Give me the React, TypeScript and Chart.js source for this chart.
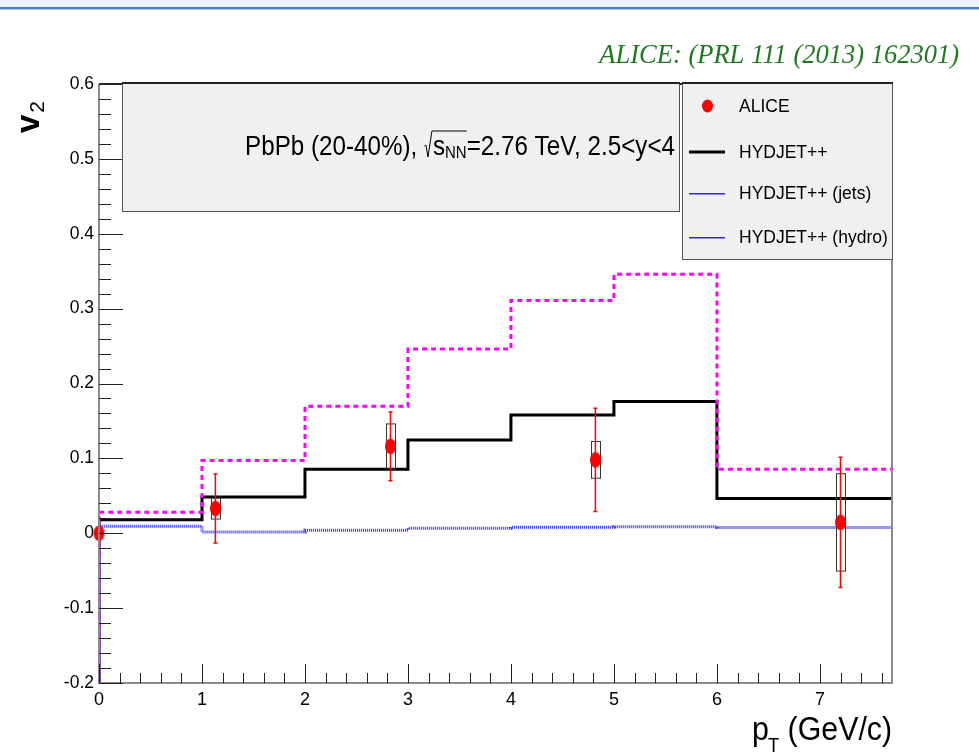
import React, { useEffect, useRef } from 'react';
import { Chart, registerables } from 'chart.js';

Chart.register(...registerables);

// ---------------- data ----------------
const binEdges = [0, 1, 2, 3, 4, 5, 6, 8];
const hydjetTotal = [0.018, 0.0485, 0.0855, 0.1245, 0.158, 0.176, 0.0465];
const hydjetMagenta = [0.028, 0.097, 0.1695, 0.246, 0.311, 0.346, 0.0855];
const hydjetBlue = [0.0093, 0.0017, 0.004, 0.0068, 0.008, 0.0088, 0.0078];

const aliceX = [0, 1.13, 2.83, 4.82, 7.2];
const aliceY = [0, 0.033, 0.116, 0.098, 0.0145];
const aliceStat = [0, 0.046, 0.046, 0.069, 0.087];
const aliceSys = [0, 0.014, 0.03, 0.0245, 0.065];

const xTicks = [0, 1, 2, 3, 4, 5, 6, 7];
const xTickLabels = ['0', '1', '2', '3', '4', '5', '6', '7'];
const yTicks = [-0.2, -0.1, 0, 0.1, 0.2, 0.3, 0.4, 0.5, 0.6];
const yTickLabels = ['-0.2', '-0.1', '0', '0.1', '0.2', '0.3', '0.4', '0.5', '0.6'];
const xMin = 0;
const xMax = 7.7;
const yMin = -0.2;
const yMax = 0.6;

const legendLabels = ['ALICE', 'HYDJET++', 'HYDJET++ (jets)', 'HYDJET++ (hydro)'];
const titleText = 'ALICE: (PRL 111 (2013) 162301)';
const infoLeft = 'PbPb (20-40%), ';
const infoS = 's';
const infoSub = 'NN';
const infoRight = '=2.76 TeV, 2.5<y<4';

const SANS = '"Liberation Sans", Arial, Helvetica, sans-serif';
const SERIF = '"Liberation Serif", "Times New Roman", serif';

function histPoints(values: number[]) {
  const pts: { x: number; y: number }[] = [{ x: binEdges[0], y: yMin }];
  values.forEach((v, i) => pts.push({ x: binEdges[i], y: v }));
  pts.push({ x: binEdges[binEdges.length - 1], y: values[values.length - 1] });
  return pts;
}

function ellipseMarker(rx: number, ry: number) {
  const c = document.createElement('canvas');
  c.width = Math.ceil(rx * 2) + 2;
  c.height = Math.ceil(ry * 2) + 2;
  const g = c.getContext('2d')!;
  g.fillStyle = '#ff0000';
  g.beginPath();
  g.ellipse(c.width / 2, c.height / 2, rx, ry, 0, 0, Math.PI * 2);
  g.fill();
  return c;
}

const rootPlugin = {
  id: 'rootDecor',
  beforeDraw(chart: any) {
    const ctx = chart.ctx as CanvasRenderingContext2D;
    ctx.save();
    ctx.fillStyle = '#ffffff';
    ctx.fillRect(0, 0, chart.width, chart.height);
    ctx.fillStyle = '#eaf2fb';
    ctx.fillRect(0, 0, chart.width, 7);
    ctx.fillStyle = '#4f7fbe';
    ctx.fillRect(0, 7, chart.width, 2);
    ctx.fillStyle = '#a9c3e3';
    ctx.fillRect(0, 9, chart.width, 1);
    ctx.restore();
  },
  beforeDatasetDraw(chart: any, args: any) {
    if (args.index !== 0) return;
    const ctx = chart.ctx as CanvasRenderingContext2D;
    const xs = chart.scales.x;
    const ys = chart.scales.y;
    ctx.save();
    for (let i = 0; i < aliceX.length; i++) {
      if (aliceStat[i] === 0 && aliceSys[i] === 0) continue;
      const px = xs.getPixelForValue(aliceX[i]);
      const bt = ys.getPixelForValue(aliceY[i] + aliceSys[i]);
      const bb = ys.getPixelForValue(aliceY[i] - aliceSys[i]);
      ctx.strokeStyle = '#333333';
      ctx.lineWidth = 1;
      ctx.strokeRect(Math.round(px - 4.5) + 0.5, bt, 9, bb - bt);
      const et = ys.getPixelForValue(aliceY[i] + aliceStat[i]);
      const eb = ys.getPixelForValue(aliceY[i] - aliceStat[i]);
      ctx.strokeStyle = '#ff0000';
      ctx.lineWidth = 1.5;
      ctx.beginPath();
      ctx.moveTo(px, et);
      ctx.lineTo(px, eb);
      ctx.moveTo(px - 2, et);
      ctx.lineTo(px + 2, et);
      ctx.moveTo(px - 2, eb);
      ctx.lineTo(px + 2, eb);
      ctx.stroke();
    }
    ctx.restore();
  },
  afterDraw(chart: any) {
    const ctx = chart.ctx as CanvasRenderingContext2D;
    const xs = chart.scales.x;
    const ys = chart.scales.y;
    const a = chart.chartArea;
    ctx.save();

    // ----- frame -----
    ctx.strokeStyle = '#8a8a8a';
    ctx.lineWidth = 2;
    ctx.beginPath();
    ctx.moveTo(a.left, a.top);
    ctx.lineTo(a.left, a.bottom);
    ctx.lineTo(a.right, a.bottom);
    ctx.lineTo(a.right, a.top);
    ctx.stroke();
    ctx.strokeStyle = '#222222';
    ctx.beginPath();
    ctx.moveTo(a.left, a.top);
    ctx.lineTo(a.right, a.top);
    ctx.stroke();

    // ----- ticks (inside, ROOT style) -----
    ctx.strokeStyle = '#222222';
    ctx.lineWidth = 1;
    ctx.beginPath();
    const ySub = 0.1 / 5;
    const nY = Math.round((yMax - yMin) / ySub);
    for (let i = 0; i <= nY; i++) {
      const v = yMin + i * ySub;
      const py = Math.round(ys.getPixelForValue(v)) + 0.5;
      const len = i % 5 === 0 ? 24 : 12;
      ctx.moveTo(a.left, py);
      ctx.lineTo(a.left + len, py);
    }
    const xSub = 1 / 5;
    const nX = Math.floor((xMax - xMin) / xSub + 1e-6);
    for (let i = 0; i <= nX; i++) {
      const v = xMin + i * xSub;
      const px = Math.round(xs.getPixelForValue(v)) + 0.5;
      const len = i % 5 === 0 ? 19 : 10;
      ctx.moveTo(px, a.bottom);
      ctx.lineTo(px, a.bottom - len);
    }
    ctx.stroke();

    // ----- info box -----
    ctx.fillStyle = '#f0f0f0';
    ctx.fillRect(122, 83, 558, 129);
    ctx.strokeStyle = '#555555';
    ctx.lineWidth = 1;
    ctx.strokeRect(122.5, 83.5, 557, 128);
    ctx.strokeStyle = '#222222';
    ctx.lineWidth = 2;
    ctx.beginPath();
    ctx.moveTo(122, 83);
    ctx.lineTo(680, 83);
    ctx.stroke();

    const F = 27.5;
    const sx = 0.88;
    const big = `${F}px ${SANS}`;
    const small = `17px ${SANS}`;
    ctx.font = big;
    const w1 = ctx.measureText(infoLeft).width;
    const ws = ctx.measureText(infoS).width;
    const w2 = ctx.measureText(infoRight).width;
    ctx.font = small;
    const wSub = ctx.measureText(infoSub).width;
    const radW = 9;
    const baseline = 155;
    const totalFinal = (w1 + ws + wSub + w2) * sx + radW;
    const x0 = 675 - totalFinal;
    ctx.fillStyle = '#000000';
    ctx.textBaseline = 'alphabetic';
    ctx.textAlign = 'left';
    const drawScaled = (txt: string, font: string, x: number, y: number) => {
      ctx.save();
      ctx.translate(x, y);
      ctx.scale(sx, 1);
      ctx.font = font;
      ctx.fillText(txt, 0, 0);
      ctx.restore();
    };
    drawScaled(infoLeft, big, x0, baseline);
    const rx = x0 + w1 * sx;
    const sX = rx + radW;
    drawScaled(infoS, big, sX, baseline);
    const subX = sX + ws * sx;
    drawScaled(infoSub, small, subX, baseline + 3);
    const eqX = subX + wSub * sx;
    drawScaled(infoRight, big, eqX, baseline);
    ctx.strokeStyle = '#000000';
    ctx.lineWidth = 1;
    ctx.beginPath();
    ctx.moveTo(rx + 0.5, baseline - 9);
    ctx.lineTo(rx + 2, baseline - 10);
    ctx.lineTo(rx + 4, baseline + 2);
    ctx.lineTo(rx + 8, baseline - 24);
    ctx.lineTo(eqX, baseline - 24);
    ctx.stroke();

    // ----- legend -----
    const lx = 682, ly = 83, lw = 211, lh = 177;
    ctx.fillStyle = '#f0f0f0';
    ctx.fillRect(lx, ly, lw, lh);
    ctx.strokeStyle = '#555555';
    ctx.lineWidth = 1;
    ctx.strokeRect(lx + 0.5, ly + 0.5, lw - 1, lh - 1);
    ctx.strokeStyle = '#222222';
    ctx.lineWidth = 2;
    ctx.beginPath();
    ctx.moveTo(lx, ly);
    ctx.lineTo(lx + lw, ly);
    ctx.stroke();
    const rowY = [106, 152, 193, 237];
    ctx.font = `17.5px ${SANS}`;
    ctx.textBaseline = 'middle';
    legendLabels.forEach((lab, i) => {
      const y = rowY[i];
      if (i === 0) {
        ctx.fillStyle = '#ff0000';
        ctx.beginPath();
        ctx.ellipse(707.5, y, 5.5, 6.5, 0, 0, Math.PI * 2);
        ctx.fill();
      } else if (i === 1) {
        ctx.fillStyle = '#000000';
        ctx.fillRect(689, y - 1.5, 36, 3);
      } else {
        ctx.fillStyle = '#2a2aee';
        ctx.fillRect(689, y, 36, 1.5);
      }
      ctx.fillStyle = '#000000';
      ctx.fillText(lab, 739, y + 1);
    });

    // ----- title -----
    ctx.font = `italic 26.5px ${SERIF}`;
    ctx.fillStyle = '#1f7a1f';
    ctx.textAlign = 'right';
    ctx.textBaseline = 'alphabetic';
    ctx.fillText(titleText, 959, 63);

    // ----- y title: v_2 -----
    ctx.save();
    ctx.translate(39, 133);
    ctx.rotate(-Math.PI / 2);
    ctx.textAlign = 'left';
    ctx.fillStyle = '#000000';
    ctx.font = `bold 33px ${SANS}`;
    ctx.fillText('v', 0, 0);
    const vW = ctx.measureText('v').width;
    ctx.font = `21px ${SANS}`;
    ctx.fillText('2', vW + 2, 5);
    ctx.restore();

    // ----- x title: p_T (GeV/c) -----
    const xsx = 0.92;
    ctx.textAlign = 'left';
    ctx.fillStyle = '#000000';
    const xt = (txt: string, font: string, x: number, y: number) => {
      ctx.save();
      ctx.translate(x, y);
      ctx.scale(xsx, 1);
      ctx.font = font;
      ctx.fillText(txt, 0, 0);
      const w = ctx.measureText(txt).width * xsx;
      ctx.restore();
      return w;
    };
    const pW = xt('p', `33px ${SANS}`, 752, 740);
    const tW = xt('T', `20px ${SANS}`, 752 + pW - 1, 752);
    xt(' (GeV/c)', `33px ${SANS}`, 752 + pW - 1 + tW, 740);

    ctx.restore();
  },
};

export default function App() {
  const ref = useRef<HTMLCanvasElement | null>(null);

  useEffect(() => {
    const canvas = ref.current;
    if (!canvas) return;
    const marker = ellipseMarker(5.5, 7.7);
    const chart = new Chart(canvas, {
      type: 'scatter',
      data: {
        datasets: [
          {
            label: 'ALICE',
            data: aliceX.map((x, i) => ({ x, y: aliceY[i] })),
            pointStyle: marker as any,
            pointRadius: 7,
            backgroundColor: '#ff0000',
            borderWidth: 0,
            clip: false as any,
          },
          {
            label: 'HYDJET++ (jets)',
            data: histPoints(hydjetBlue),
            showLine: true,
            stepped: 'before',
            pointRadius: 0,
            borderColor: 'rgba(20,20,255,0.9)',
            borderWidth: 3,
            borderDash: [1, 1],
          } as any,
          {
            label: 'HYDJET++ (hydro)',
            data: histPoints(hydjetMagenta),
            showLine: true,
            stepped: 'before',
            pointRadius: 0,
            borderColor: '#ff00ff',
            borderWidth: 3,
            borderDash: [5, 4],
          } as any,
          {
            label: 'HYDJET++',
            data: histPoints(hydjetTotal),
            showLine: true,
            stepped: 'before',
            pointRadius: 0,
            borderColor: '#000000',
            borderWidth: 3,
          } as any,
        ],
      },
      options: {
        animation: false,
        responsive: false,
        devicePixelRatio: 1,
        events: [],
        layout: { padding: { left: 0, top: 84, right: 87, bottom: 0 } },
        plugins: {
          legend: { display: false },
          tooltip: { enabled: false },
          title: { display: false },
        },
        scales: {
          x: {
            type: 'linear',
            min: xMin,
            max: xMax,
            grid: { display: false, drawTicks: false },
            border: { display: false },
            afterBuildTicks: (s: any) => {
              s.ticks = xTicks.map((v) => ({ value: v }));
            },
            afterFit: (s: any) => {
              s.height = 72;
            },
            ticks: {
              autoSkip: false,
              maxRotation: 0,
              padding: 6,
              color: '#000000',
              font: { family: SANS, size: 18 },
              callback: (_v: any, i: number) => xTickLabels[i],
            },
          },
          y: {
            type: 'linear',
            min: yMin,
            max: yMax,
            grid: { display: false, drawTicks: false },
            border: { display: false },
            afterBuildTicks: (s: any) => {
              s.ticks = yTicks.map((v) => ({ value: v }));
            },
            afterFit: (s: any) => {
              s.width = 99;
            },
            ticks: {
              autoSkip: false,
              padding: 5,
              color: '#000000',
              font: { family: SANS, size: 17.5 },
              callback: (_v: any, i: number) => yTickLabels[i],
            },
          },
        },
      } as any,
      plugins: [rootPlugin],
    });
    return () => chart.destroy();
  }, []);

  return (
    <div style={{ position: 'absolute', left: 0, top: 0, width: 979, height: 755, background: '#fff' }}>
      <canvas ref={ref} width={979} height={755} style={{ display: 'block', width: 979, height: 755 }} />
    </div>
  );
}
